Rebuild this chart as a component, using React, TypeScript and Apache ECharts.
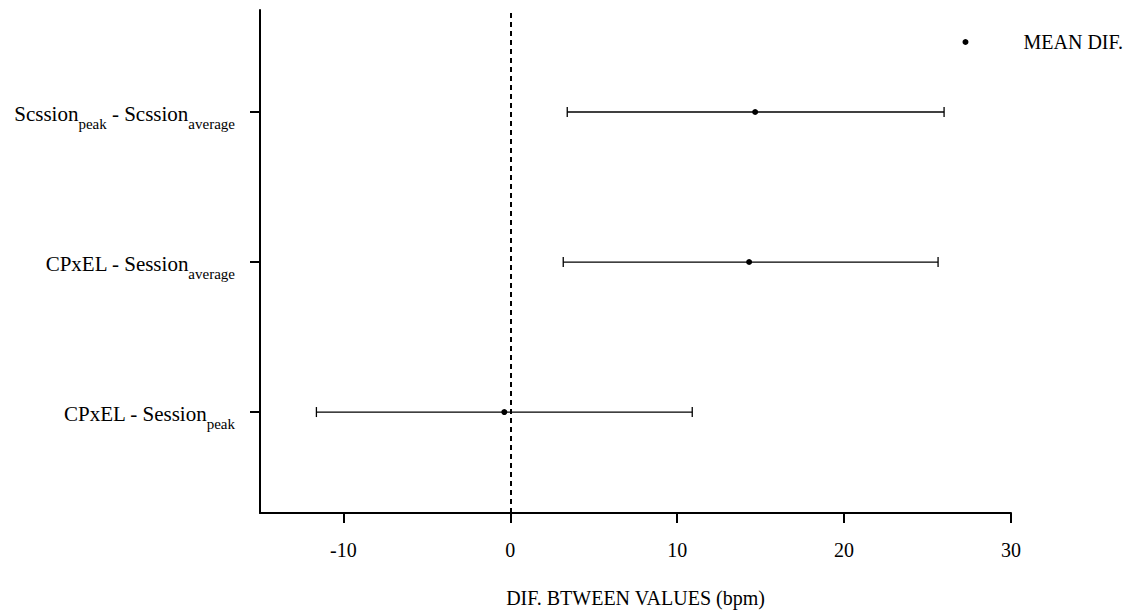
import React, { useEffect, useRef } from "react";
import * as echarts from "echarts";

const rowLabels = [
  "{m|CPxEL - Session}{s|peak}",
  "{m|CPxEL - Session}{s|average}",
  "{m|Scssion}{s|peak}{m| - Scssion}{s|average}",
];
const rowPositions = [0, 1, 2];
const meanDiff = [-0.36, 14.31, 14.67];
const lowerLimit = [-11.62, 3.17, 3.41];
const upperLimit = [10.9, 25.63, 25.99];
const xTicks = [-10, 0, 10, 20, 30];

const FONT = "'Liberation Serif', 'DejaVu Serif', serif";

export default function App() {
  const ref = useRef<HTMLDivElement>(null);
  useEffect(() => {
    if (!ref.current) return;
    const chart = echarts.init(ref.current, undefined, { renderer: "svg" });
    const barData = rowPositions.map((p, i) => [lowerLimit[i], upperLimit[i], p]);
    const meanData = rowPositions.map((p, i) => [meanDiff[i], p]);
    chart.setOption({
      animation: false,
      backgroundColor: "#ffffff",
      textStyle: { fontFamily: FONT },
      grid: { left: 260, right: 125, top: 10, bottom: 99, outerBoundsMode: "none", containLabel: false },
      legend: {
        right: 8,
        top: 27,
        data: [{ name: "MEAN DIF.", icon: "circle" }],
        itemWidth: 6,
        itemHeight: 6,
        itemStyle: { color: "#000" },
        textStyle: {
          fontFamily: FONT,
          fontSize: 20,
          color: "#000",
          padding: [0, 0, 0, 50],
        },
      },
      xAxis: {
        type: "value",
        min: -15,
        max: 30,
        interval: 5,
        name: "DIF. BTWEEN VALUES (bpm)",
        nameLocation: "middle",
        nameGap: 75,
        nameTextStyle: { fontFamily: FONT, fontSize: 20, color: "#000" },
        axisLine: { show: true, onZero: false, lineStyle: { color: "#000", width: 2 } },
        axisTick: {
          show: true,
          length: 10,
          lineStyle: { color: "#000", width: 2 },
          customValues: xTicks,
        },
        axisLabel: {
          customValues: xTicks,
          margin: 27,
          fontFamily: FONT,
          fontSize: 20,
          color: "#000",
        },
        splitLine: { show: false },
      },
      yAxis: {
        type: "value",
        min: -0.673,
        max: 2.68,
        axisLine: { show: true, onZero: false, lineStyle: { color: "#000", width: 2 } },
        axisTick: {
          show: true,
          length: 10,
          lineStyle: { color: "#000", width: 2 },
          customValues: rowPositions,
        },
        axisLabel: {
          customValues: rowPositions,
          margin: 25,
          formatter: (v: number) => rowLabels[Math.round(v)] ?? "",
          rich: {
            m: { fontFamily: FONT, fontSize: 21, color: "#000", verticalAlign: "bottom", lineHeight: 24 },
            s: {
              fontFamily: FONT,
              fontSize: 15,
              color: "#000",
              verticalAlign: "bottom",
              lineHeight: 24,
              padding: [0, 0, -7, 0],
            },
          },
        },
        splitLine: { show: false },
      },
      series: [
        {
          type: "custom",
          name: "range",
          data: barData,
          encode: { x: [0, 1], y: 2 },
          renderItem: (params: any, api: any) => {
            const lo = api.coord([api.value(0), api.value(2)]);
            const hi = api.coord([api.value(1), api.value(2)]);
            const h = 5;
            const style = { stroke: "#000", lineWidth: 1.3 };
            return {
              type: "group",
              children: [
                { type: "line", shape: { x1: lo[0], y1: lo[1], x2: hi[0], y2: hi[1] }, style },
                { type: "line", shape: { x1: lo[0], y1: lo[1] - h, x2: lo[0], y2: lo[1] + h }, style },
                { type: "line", shape: { x1: hi[0], y1: hi[1] - h, x2: hi[0], y2: hi[1] + h }, style },
              ],
            };
          },
          z: 2,
        },
        {
          type: "scatter",
          name: "MEAN DIF.",
          data: meanData,
          symbol: "circle",
          symbolSize: 6,
          itemStyle: { color: "#000", opacity: 1 },
          z: 5,
          markLine: {
            silent: true,
            symbol: "none",
            label: { show: false },
            lineStyle: { color: "#000", type: [5, 4], width: 2 },
            data: [{ xAxis: 0 }],
          },
        },
      ],
    });
    return () => chart.dispose();
  }, []);
  return <div ref={ref} style={{ width: 1136, height: 612, position: "absolute", left: 0, top: 0 }} />;
}
